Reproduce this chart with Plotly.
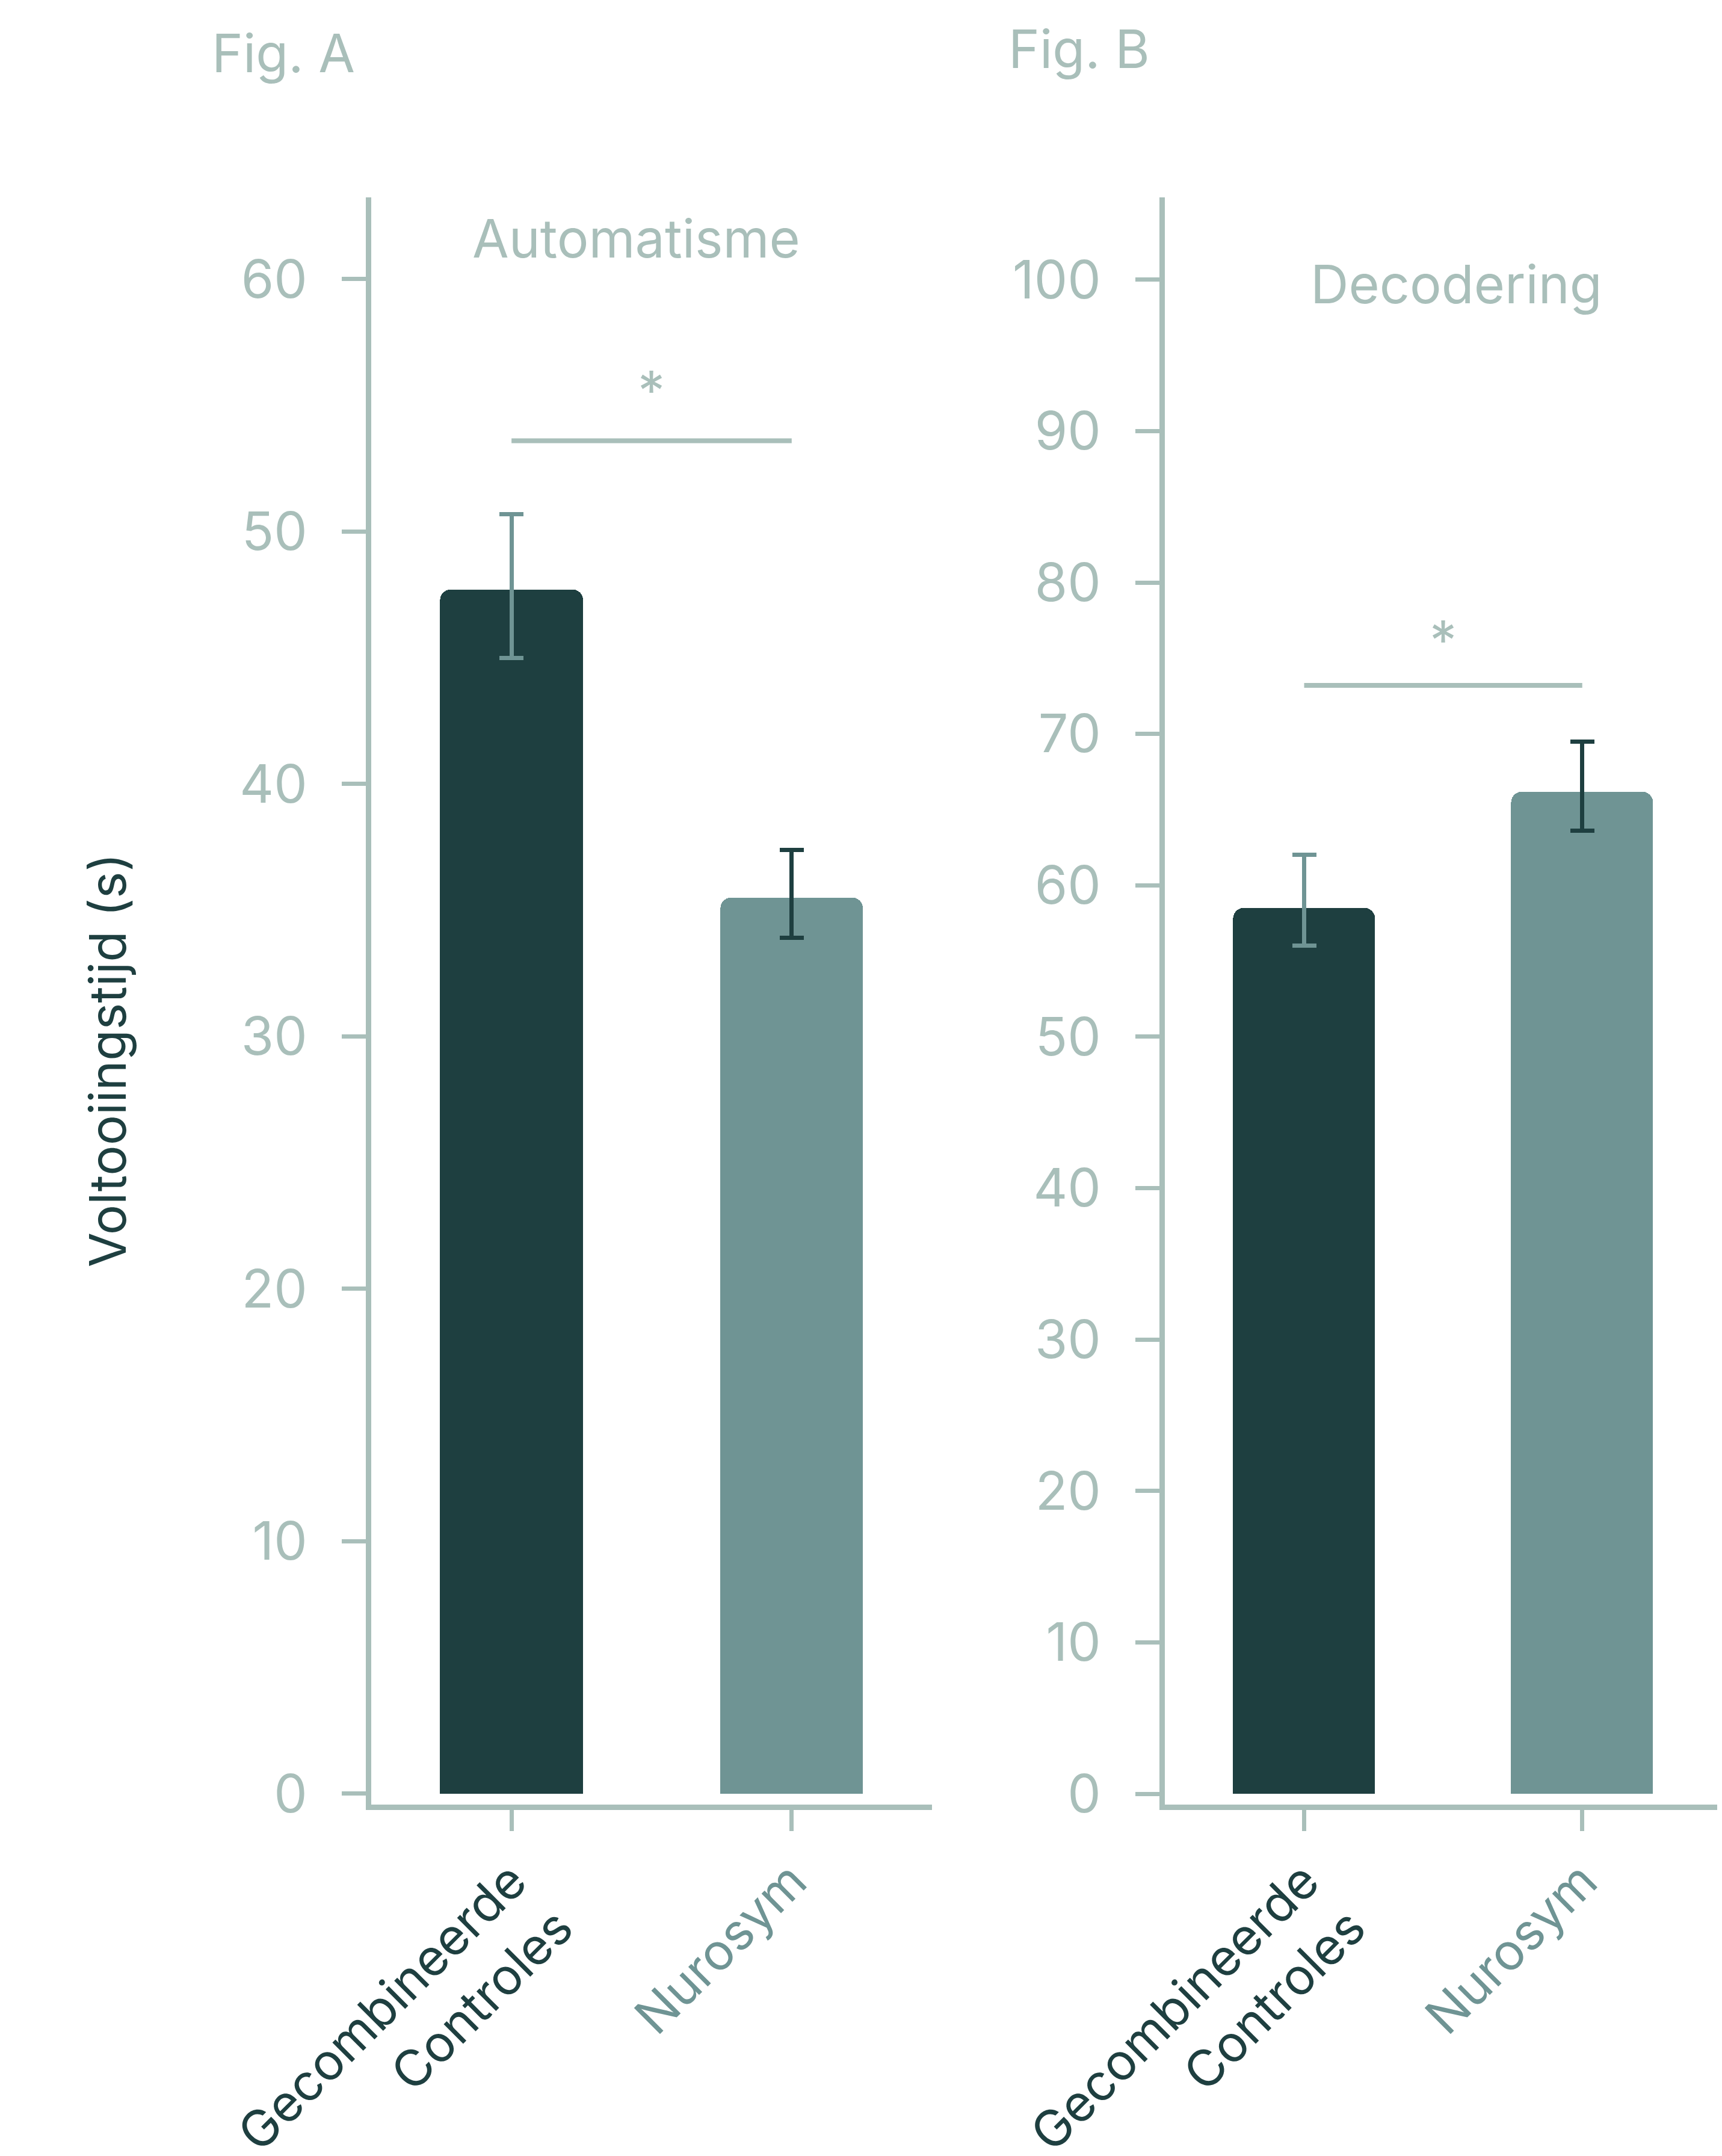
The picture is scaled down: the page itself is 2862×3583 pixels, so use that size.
import plotly.graph_objects as go

categories = ["Gecombineerde<br>Controles", "Nurosym"]
auto_vals = [47.7, 35.5]
auto_err_plus = [3.0, 1.9]
auto_err_minus = [2.7, 1.6]
dec_vals = [58.5, 66.2]
dec_err_plus = [3.5, 3.3]
dec_err_minus = [2.5, 2.6]
auto_ticks = [0, 10, 20, 30, 40, 50, 60]
dec_ticks = [0, 10, 20, 30, 40, 50, 60, 70, 80, 90, 100]
auto_sig = 53.6
dec_sig = 73.2

DARK = "#1e3f40"
TEAL = "#6f9494"
GRAY = "#a9bfba"
FONT = "Inter"

fig = go.Figure()

def add_panel(vals, ep, em, xa, ya):
    for i, c in enumerate(categories):
        fig.add_trace(go.Bar(
            x=[c], y=[vals[i]], width=0.51, xaxis=xa, yaxis=ya,
            marker=dict(color=[DARK, TEAL][i], cornerradius=18, line=dict(width=0)),
            error_y=dict(type="data", array=[ep[i]], arrayminus=[em[i]],
                         color=[TEAL, DARK][i], thickness=7, width=20),
            showlegend=False))

add_panel(auto_vals, auto_err_plus, auto_err_minus, "x", "y")
add_panel(dec_vals, dec_err_plus, dec_err_minus, "x2", "y2")

fig.add_trace(go.Scatter(x=categories, y=[auto_sig, auto_sig], mode="lines",
                         line=dict(color=GRAY, width=8), xaxis="x", yaxis="y", showlegend=False))
fig.add_trace(go.Scatter(x=categories, y=[dec_sig, dec_sig], mode="lines",
                         line=dict(color=GRAY, width=8), xaxis="x2", yaxis="y2", showlegend=False))

axis_common = dict(showgrid=False, zeroline=False, showline=True, linecolor=GRAY, linewidth=9,
                   ticks="outside", tickcolor=GRAY, tickwidth=7, automargin=False)

xt = dict(**axis_common, ticklen=35, tickangle=-45, type="category", range=[-0.5, 1.5],
          tickfont=dict(family=FONT, size=84, color=DARK),
          tickvals=categories,
          ticktext=[categories[0], f"<span style='color:{TEAL}'>Nurosym</span>"])
fig.update_layout(
    width=2862, height=3583, paper_bgcolor="white", plot_bgcolor="white",
    margin=dict(l=0, r=0, t=0, b=0), bargap=0,
    xaxis=dict(**xt, domain=[0.2129, 0.5383], anchor="y"),
    xaxis2=dict(**xt, domain=[0.6738, 0.9968], anchor="y2"),
    yaxis=dict(**axis_common, ticklen=40, domain=[0.1651, 0.9108], range=[-0.44, 63.25],
               tickvals=auto_ticks, ticklabelstandoff=40, anchor="x",
               tickfont=dict(family=FONT, size=88, color=GRAY)),
    yaxis2=dict(**axis_common, ticklen=40, domain=[0.1651, 0.9108], range=[-0.73, 105.45],
                tickvals=dec_ticks, ticklabelstandoff=40, anchor="x2",
                tickfont=dict(family=FONT, size=88, color=GRAY)),
)

def ann(text, x, y, size, color, xref="paper", yref="paper", angle=0, xanchor="center"):
    fig.add_annotation(text=text, x=x, y=y, xref=xref, yref=yref, showarrow=False,
                       textangle=angle, xanchor=xanchor, yanchor="middle",
                       font=dict(family=FONT, size=size, color=color))

ann("Fig. A", 150/1254, 1 - 35/1569, 88, GRAY, xanchor="left")
ann("Fig. B", 730/1254, 1 - 32/1569, 88, GRAY, xanchor="left")
ann("Automatisme", 460/1254, 1 - 170/1569, 88, GRAY)
ann("Decodering", 1057/1254, 1 - 203/1569, 88, GRAY)
ann("Voltooiingstijd (s)", 75/1254, 1 - 768/1569, 84, DARK, angle=-90)
ann("*", 0.5, auto_sig + 2.0, 90, GRAY, xref="x domain", yref="y")
ann("*", 0.5, dec_sig + 3.0, 90, GRAY, xref="x2 domain", yref="y2")

fig.write_html("out.html")
